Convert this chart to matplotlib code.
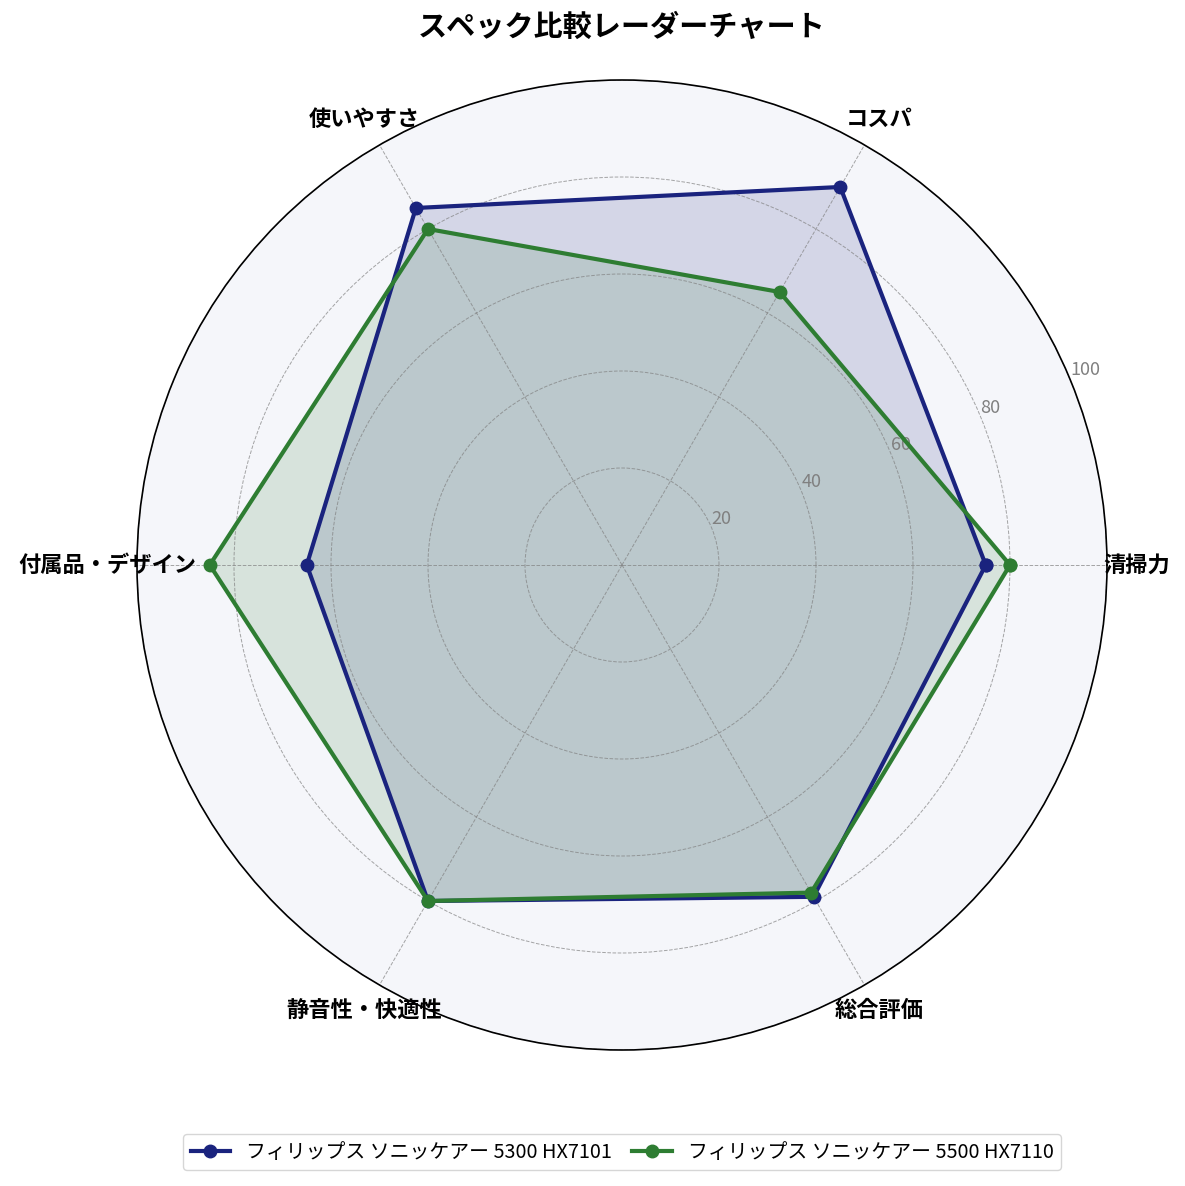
import numpy as np
import matplotlib
matplotlib.use("Agg")
import matplotlib.pyplot as plt

plt.rcParams['font.family'] = ['Noto Sans CJK JP', 'DejaVu Sans']

categories = ["清掃力", "コスパ", "使いやすさ", "付属品・デザイン", "静音性・快適性", "総合評価"]
series_names = ["フィリップス ソニッケアー 5300 HX7101", "フィリップス ソニッケアー 5500 HX7110"]
values_5300 = [75, 90, 85, 65, 80, 79]
values_5500 = [80, 65, 80, 85, 80, 78]
colors = ["#1a237e", "#2e7d32"]
rticks = [20, 40, 60, 80, 100]

fig = plt.figure(figsize=(11.85, 11.86), dpi=100)
ax = fig.add_axes([137/1185, (1186-1050)/1186, 970/1185, 970/1186], projection='polar')
ax.set_facecolor("#f5f6fa")

n = len(categories)
angles = np.linspace(0, 2*np.pi, n, endpoint=False).tolist()
angles_c = angles + angles[:1]

for vals, name, c in zip([values_5300, values_5500], series_names, colors):
    v = vals + vals[:1]
    ax.plot(angles_c, v, color=c, linewidth=3, marker='o', markersize=9, label=name)
    ax.fill(angles_c, v, color=c, alpha=0.15)

ax.set_ylim(0, 100)
ax.set_yticks(rticks)
ax.set_yticklabels([str(t) for t in rticks], color="gray", fontsize=13)
ax.set_rlabel_position(22.5)
ax.set_xticks(angles)
ax.set_xticklabels(categories, fontsize=16, fontweight='bold')
ax.tick_params(axis='x', pad=11)
ax.grid(color='gray', linestyle='--', linewidth=0.7, alpha=0.7)
ax.spines['polar'].set_color('black')
ax.spines['polar'].set_linewidth(1.2)

fig.text(622/1185, 1 - 27/1186, "スペック比較レーダーチャート", fontsize=21, fontweight='bold',
         ha='center', va='center')
ax.legend(loc='center', bbox_to_anchor=(622/1185, 1 - 1152/1186), bbox_transform=fig.transFigure,
          ncol=2, fontsize=14.3, frameon=True, columnspacing=1.0)

fig.savefig("out.png", dpi=100)
